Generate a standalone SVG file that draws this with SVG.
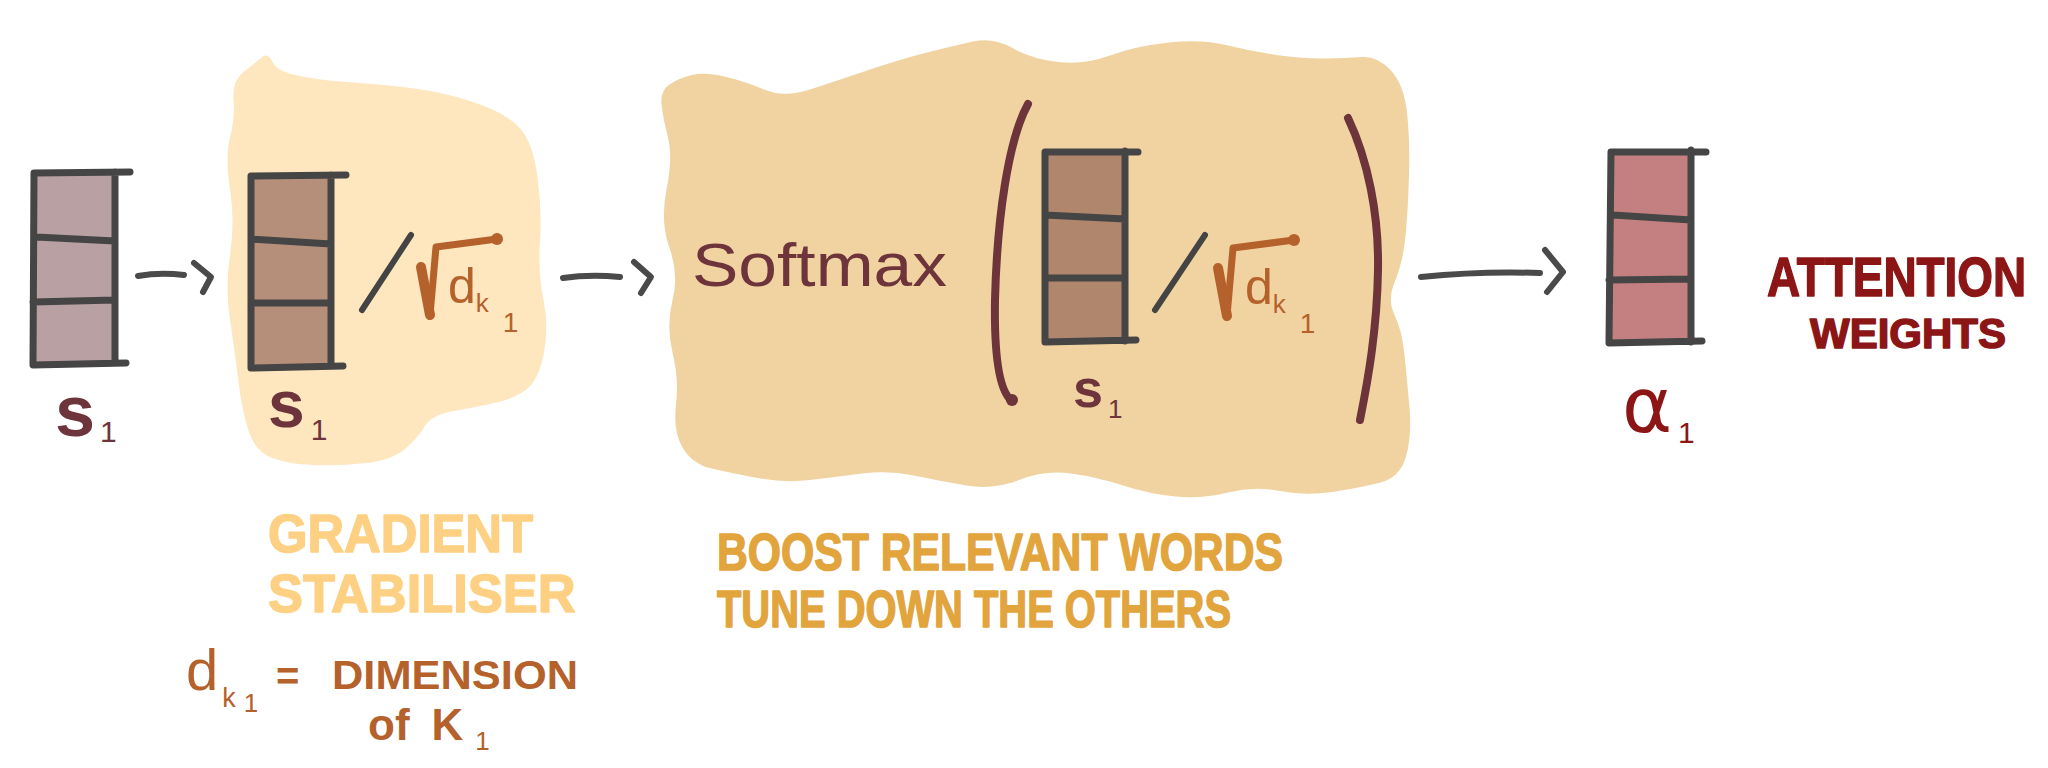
<svg xmlns="http://www.w3.org/2000/svg" width="2048" height="768" viewBox="0 0 2048 768">
<style>
.box{stroke:#454545;stroke-width:7;stroke-linecap:round;stroke-linejoin:round;fill:none}
.arr{stroke:#4a4a4a;stroke-width:6;stroke-linecap:round;stroke-linejoin:round;fill:none}
.slash{stroke:#444;stroke-width:6;stroke-linecap:round}
.rad{stroke:#b5612b;stroke-width:7;stroke-linecap:round;stroke-linejoin:round;fill:none}
.paren{stroke:#6d343b;stroke-width:8;stroke-linecap:round;fill:none}
.lbl{font-family:"Liberation Sans",Arial,sans-serif;fill:#6d343b}
.cap{font-family:"Liberation Sans",Arial,sans-serif;font-weight:bold;stroke-width:1.5;stroke-linejoin:round}
.orng{font-family:"Liberation Sans",Arial,sans-serif;fill:#b5612b}
.sub{font-weight:normal}
.red{fill:#8c1515;stroke:#8c1515}
.yel{fill:#fdd083;stroke:#fdd083}
.gold{fill:#e2a43c;stroke:#e2a43c}
</style>
<defs>
<g id="sqrt">
<path class="rad" d="M421,267 L430,315 L436,247 L497,239"/>
<path d="M421,267 L430,315" stroke="#b5612b" stroke-width="10" stroke-linecap="round"/>
<circle cx="497" cy="239" r="6" fill="#b5612b"/>
<text class="orng" x="448" y="303" font-size="50">d<tspan font-size="26" dy="9">k</tspan><tspan font-size="28" dx="14" dy="20">1</tspan></text>
</g>
</defs>

<g id="blob-stabiliser">
<path fill="#fee7bf" d="M233.5,99.5 Q232,81 243.5,72 Q255,63 261.5,57.5 Q268,52 272.5,62 Q277,72 302,76.5 Q327,81 359.5,83 Q392,85 421.5,89.5 Q451,94 480,104.5 Q509,115 521,129.5 Q533,144 537.5,176.5 Q542,209 540,241.5 Q538,274 543.5,300 Q549,326 544,352.5 Q539,379 527.5,388.5 Q516,398 496.5,402.5 Q477,407 454,411 Q431,415 424.5,426.5 Q418,438 405,449 Q392,460 366,463 Q340,466 313.5,465 Q287,464 271,457.5 Q255,451 248.5,431 Q242,411 238.5,382 Q235,353 230,320 Q225,287 230,254.5 Q235,222 230,189.5 Q225,157 230,137.5 Q235,118 233.5,99.5 Z"/>
</g>
<g id="blob-softmax">
<path fill="#f0d3a0" d="M661.5,104.5 Q660,91 669.5,84.5 Q679,78 692,75 Q705,72 724.5,76.5 Q744,81 764,89.5 Q784,98 810,89.5 Q836,81 868.5,70 Q901,59 927,52.5 Q953,46 973,41.5 Q993,37 1012.5,48 Q1032,59 1058,62 Q1084,65 1110,55.5 Q1136,46 1169,42.5 Q1202,39 1228,45.5 Q1254,52 1280,55.5 Q1306,59 1325.5,58.5 Q1345,58 1361.5,57 Q1378,56 1391,70.5 Q1404,85 1407,112.5 Q1410,140 1409,175 Q1408,210 1405.5,236 Q1403,262 1395,281 Q1387,300 1394.5,315 Q1402,330 1404.5,355 Q1407,380 1409.5,407.5 Q1412,435 1406,456.5 Q1400,478 1379,483 Q1358,488 1332,492 Q1306,496 1280,491 Q1254,486 1228,492.5 Q1202,499 1175.5,496.5 Q1149,494 1123,485.5 Q1097,477 1071,473.5 Q1045,470 1019,480 Q993,490 966.5,485.5 Q940,481 914,475.5 Q888,470 862,473.5 Q836,477 810,480 Q784,483 757.5,478 Q731,473 711.5,468.5 Q692,464 682.5,447.5 Q673,431 676,405 Q679,379 672.5,352.5 Q666,326 672.5,300 Q679,274 669.5,248 Q660,222 666.5,189.5 Q673,157 668,137.5 Q663,118 661.5,104.5 Z"/>
</g>

<g id="connectors">
<path class="arr" d="M138,276 Q160,272 184,275"/>
<path class="arr" d="M194,263 L211,277 L203,292"/>
<path class="arr" d="M563,278 Q590,274 620,277"/>
<path class="arr" d="M634,262 L651,277 L641,293"/>
<path class="arr" d="M1421,277 Q1480,271 1540,273"/>
<path class="arr" d="M1545,250 L1563,272 L1547,292"/>
</g>

<g id="node-s1">
<path fill="#b9a1a3" d="M34,173 L115,173 L115,363 L33,364 Z"/>
<path class="box" d="M34,173 L130,172 M115,172 L115,363 M33,365 L126,363 M34,173 L33,365 M36,237 L115,241 M33,302 L115,300"/>
<text class="lbl" x="55" y="436" font-size="72" font-weight="bold">s<tspan class="sub" font-size="30" dx="5" dy="6">1</tspan></text>
</g>

<g id="node-scaled">
<path fill="#b68f7b" d="M251,176 L331,176 L331,366 L251,368 Z"/>
<path class="box" d="M251,176 L346,175 M331,175 L331,366 M251,368 L343,366 M251,176 L251,368 M251,239 L331,244 M251,303 L331,303"/>
<line class="slash" x1="362" y1="310" x2="411" y2="235"/>
<use href="#sqrt"/>
<text class="lbl" x="268" y="427" font-size="66" font-weight="bold">s<tspan class="sub" font-size="30" dx="6" dy="13">1</tspan></text>
</g>

<g id="node-softmax">
<text class="lbl" x="692" y="286" font-size="62" textLength="255" lengthAdjust="spacingAndGlyphs">Softmax</text>
<path class="paren" d="M1028,104 C1008,140 997,220 995,300 C994,360 1000,392 1012,401"/>
<circle cx="1012" cy="400" r="6" fill="#6d343b"/>
<path fill="#b0876d" d="M1045,152 L1125,152 L1125,340 L1045,342 Z"/>
<path class="box" d="M1045,152 L1138,152 M1125,151 L1125,341 M1045,342 L1136,340 M1045,152 L1045,342 M1045,215 L1125,219 M1045,278 L1125,278"/>
<line class="slash" x1="1155" y1="310" x2="1205" y2="235"/>
<use href="#sqrt" transform="translate(797,1)"/>
<text class="lbl" x="1073" y="407" font-size="54" font-weight="bold">s<tspan class="sub" font-size="26" dx="5" dy="11">1</tspan></text>
<path class="paren" d="M1348,118 C1368,160 1379,215 1378,270 C1377,330 1368,380 1360,420"/>
</g>

<g id="node-alpha">
<path fill="#c48081" d="M1611,152 L1691,152 L1691,341 L1609,343 Z"/>
<path class="box" d="M1611,152 L1706,152 M1691,150 L1691,342 M1609,343 L1702,341 M1611,152 L1609,343 M1613,215 L1691,220 M1609,280 L1691,279"/>
<text x="1622" y="432" font-family="DejaVu Sans, sans-serif" font-size="76" fill="#8c1515">α<tspan font-family="Liberation Sans, sans-serif" font-size="30" dx="6" dy="11">1</tspan></text>
</g>

<g id="label-attention">
<text class="cap red" transform="translate(1767,296) scale(0.82,1)" font-size="56">ATTENTION</text>
<text class="cap red" x="1810" y="348" font-size="42">WEIGHTS</text>
</g>

<g id="label-gradient">
<text class="cap yel" transform="translate(268,552) scale(0.94,1)" font-size="54">GRADIENT</text>
<text class="cap yel" transform="translate(268,612) scale(0.97,1)" font-size="54">STABILISER</text>
</g>

<g id="label-dimension">
<text class="orng" x="186" y="690" font-size="58">d<tspan font-size="27" dx="4" dy="17">k</tspan><tspan font-size="26" dx="8" dy="5">1</tspan></text>
<text class="orng cap" x="276" y="690" font-size="40">=</text>
<text class="orng cap" x="332" y="689" font-size="40" textLength="246" lengthAdjust="spacingAndGlyphs">DIMENSION</text>
<text class="orng cap" x="368" y="740" font-size="44">of<tspan dx="22">K</tspan><tspan class="sub" font-size="26" dx="12" dy="10">1</tspan></text>
</g>

<g id="label-boost">
<text class="cap gold" x="717" y="570" font-size="52" textLength="566" lengthAdjust="spacingAndGlyphs">BOOST RELEVANT WORDS</text>
<text class="cap gold" x="717" y="627" font-size="52" textLength="514" lengthAdjust="spacingAndGlyphs">TUNE DOWN THE OTHERS</text>
</g>
</svg>
